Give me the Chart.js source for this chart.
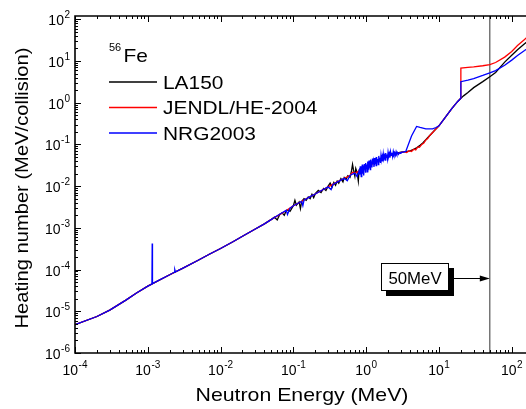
<!DOCTYPE html>
<html lang="en">
<head>
<meta charset="UTF-8">
<script src="https://cdn.jsdelivr.net/npm/chart.js"></script>
<title>Heating number 56Fe</title>
<style>
  body { margin: 0; background: #fff; }
  #wrap { width: 526px; height: 409px; }
</style>
</head>
<body>
<div id="wrap"><canvas id="heatChart" width="526" height="409"></canvas></div>
<script>
// series labels and colours
const seriesNames = ['LA150', 'JENDL/HE-2004', 'NRG2003'];
const seriesColors = ['#000000', '#ff0000', '#0000ff'];

// common low-energy part (MeV, MeV/collision)
const lowE = [1e-4, 2e-4, 3e-4, 5e-4, 7e-4, 1e-3, 2e-3, 3e-3, 5e-3, 7e-3, 1e-2, 1.5e-2, 2e-2, 3e-2, 4e-2];
const lowH = [4.8e-6, 7.5e-6, 1.07e-5, 1.85e-5, 2.75e-5, 4.0e-5, 7.5e-5, 1.07e-4, 1.7e-4, 2.33e-4, 3.2e-4, 4.7e-4, 6.3e-4, 9.4e-4, 1.25e-3];

// LA150
const la150E = [0.05, 0.055, 0.06, 0.065, 0.07, 0.075, 0.08, 0.085, 0.09, 0.1, 0.105, 0.11, 0.12, 0.125, 0.13, 0.14, 0.15, 0.16, 0.17, 0.18, 0.19, 0.2,
  0.22, 0.24, 0.26, 0.28, 0.3, 0.32, 0.34, 0.36, 0.38, 0.4, 0.42, 0.45, 0.48, 0.5, 0.53, 0.56, 0.6, 0.63, 0.65, 0.67, 0.7, 0.72, 0.75, 0.78, 0.8,
  0.85, 0.9, 1.0, 1.5, 2.0, 2.5, 3.0, 3.5, 4.0, 4.5, 5.0, 5.5, 6.0, 7.0, 8.0, 9.0, 10, 12, 15, 18, 20, 22, 25, 30, 40, 50, 60, 80, 100, 120, 150, 170];
const la150H = [1.6e-3, 1.8e-3, 1.55e-3, 2.1e-3, 2.3e-3, 2.0e-3, 2.6e-3, 2.7e-3, 2.5e-3, 3.4e-3, 4.6e-3, 3.5e-3, 4.2e-3, 2.9e-3, 4.3e-3, 5.0e-3, 4.6e-3, 5.5e-3, 5.0e-3, 6.4e-3, 5.3e-3, 6.6e-3,
  7.9e-3, 7.0e-3, 8.8e-3, 7.9e-3, 1.0e-2, 1.18e-2, 9.5e-3, 1.22e-2, 1.05e-2, 1.32e-2, 1.18e-2, 1.52e-2, 1.27e-2, 1.62e-2, 1.47e-2, 1.78e-2, 1.62e-2, 2.35e-2, 3.3e-2, 2.45e-2, 1.72e-2, 2.65e-2, 2.15e-2, 1.32e-2, 2.45e-2,
  2.6e-2, 2.75e-2, 2.95e-2, 4.2e-2, 5.3e-2, 6.0e-2, 6.5e-2, 6.7e-2, 7.0e-2, 7.6e-2, 8.4e-2, 9.5e-2, 0.108, 0.145, 0.186, 0.232, 0.28, 0.43, 0.72, 1.06, 1.28, 1.48, 1.75, 2.3, 3.2, 4.2, 5.3, 9.4, 13.7, 18.6, 26, 31];

// JENDL/HE-2004
const jendlE = [0.05, 0.07, 0.1, 0.12, 0.15, 0.2, 0.25, 0.3, 0.4, 0.5, 0.6, 0.65, 0.7, 0.8, 1.0, 1.3, 1.6, 2.0, 2.5, 3.0, 3.3, 3.6, 3.9, 4.2, 4.5, 4.8,
  5.1, 5.4, 5.8, 6.2, 6.6, 7.0, 7.4, 8, 9, 10, 12, 15, 18, 20, 20, 25, 30, 40, 50, 60, 80, 100, 120, 150, 170];
const jendlH = [1.6e-3, 2.25e-3, 3.4e-3, 4.0e-3, 5.0e-3, 6.5e-3, 8.1e-3, 9.6e-3, 1.27e-2, 1.55e-2, 1.8e-2, 2.15e-2, 2.05e-2, 2.3e-2, 2.9e-2, 3.6e-2, 4.3e-2, 5.2e-2, 5.8e-2, 6.4e-2, 6.7e-2, 6.4e-2, 7.1e-2, 6.8e-2, 7.7e-2, 7.4e-2,
  8.7e-2, 8.5e-2, 0.1, 0.108, 0.128, 0.138, 0.16, 0.185, 0.23, 0.28, 0.43, 0.72, 1.06, 1.28, 6.8, 7.0, 7.2, 7.7, 8.2, 9.2, 12.4, 17, 23.5, 33, 40];

// NRG2003
const nrgE = [1e-4, 2e-4, 3e-4, 5e-4, 7e-4, 1e-3, 1.14e-3, 1.15e-3, 1.16e-3, 1.5e-3, 2e-3, 2.3e-3, 2.35e-3, 2.4e-3, 3e-3, 5e-3, 7e-3, 1e-2, 1.5e-2, 2e-2, 3e-2, 4e-2,
  0.05, 0.06, 0.07, 0.08, 0.083, 0.09, 0.1, 0.12, 0.13, 0.135, 0.14, 0.17, 0.2, 0.25, 0.3, 0.33, 0.35, 0.4, 0.45, 0.5, 0.55, 0.6, 0.65, 0.7, 0.75, 0.8,
  0.81, 0.82, 0.83, 0.845, 0.855, 0.865, 0.875, 0.885, 0.895, 0.91, 0.92, 0.93, 0.945, 0.955, 0.965, 0.98, 0.99, 1.00, 1.02, 1.035, 1.05, 1.065,
  1.08, 1.095, 1.11, 1.13, 1.145, 1.16, 1.18, 1.20, 1.22, 1.24, 1.26, 1.28, 1.30, 1.32, 1.345, 1.37, 1.39, 1.415, 1.44, 1.465, 1.49, 1.515,
  1.54, 1.57, 1.60, 1.63, 1.66, 1.69, 1.72, 1.75, 1.785, 1.82, 1.855, 1.89, 1.925, 1.96, 2.00, 2.04, 2.08, 2.12, 2.16, 2.21, 2.26, 2.31,
  2.36, 2.41, 2.46, 2.52, 2.58, 2.64, 2.70, 2.78, 2.86, 2.95, 3.00,
  3.5, 4.2, 4.93, 5.5, 6.6, 8.2, 9.1, 10, 12, 15, 18, 20, 20, 25, 30, 40, 50, 60, 80, 100, 120, 150, 170];
const nrgH = [4.8e-6, 7.5e-6, 1.07e-5, 1.85e-5, 2.75e-5, 4.0e-5, 4.5e-5, 4.2e-4, 4.6e-5, 5.8e-5, 7.5e-5, 8.6e-5, 1.0e-4, 8.8e-5, 1.07e-4, 1.7e-4, 2.33e-4, 3.2e-4, 4.7e-4, 6.3e-4, 9.4e-4, 1.25e-3,
  1.6e-3, 1.95e-3, 2.3e-3, 2.65e-3, 2.1e-3, 2.95e-3, 3.4e-3, 4.0e-3, 4.3e-3, 3.4e-3, 4.6e-3, 5.6e-3, 6.5e-3, 8.1e-3, 9.6e-3, 8.3e-3, 1.1e-2, 1.25e-2, 1.4e-2, 1.55e-2, 1.35e-2, 1.8e-2, 1.95e-2, 2.05e-2, 1.7e-2, 2.3e-2,
  0.027, 0.019, 0.030, 0.022, 0.017, 0.029, 0.024, 0.033, 0.020, 0.031, 0.026, 0.018, 0.034, 0.025, 0.030, 0.021, 0.036, 0.027, 0.033, 0.022, 0.039, 0.029,
  0.025, 0.041, 0.031, 0.036, 0.024, 0.043, 0.033, 0.028, 0.046, 0.034, 0.040, 0.029, 0.047, 0.037, 0.042, 0.031, 0.050, 0.039, 0.045, 0.033, 0.053, 0.040,
  0.048, 0.036, 0.056, 0.044, 0.051, 0.039, 0.059, 0.047, 0.054, 0.042, 0.062, 0.050, 0.057, 0.045, 0.065, 0.052, 0.060, 0.048, 0.067, 0.055, 0.063, 0.051,
  0.068, 0.058, 0.064, 0.055, 0.067, 0.059, 0.064, 0.058, 0.063, 0.061, 0.064,
  0.068, 0.16, 0.27, 0.255, 0.235, 0.235, 0.255, 0.28, 0.43, 0.72, 1.06, 1.28, 3.2, 3.5, 3.8, 4.5, 5.2, 5.9, 7.9, 10.5, 13.5, 17.8, 21];

// axis ticks (powers of ten) and marker
const xTickExps = [-4, -3, -2, -1, 0, 1, 2];
const yTickExps = [-6, -5, -4, -3, -2, -1, 0, 1, 2];
const markerEnergy = 50;
const markerLabel = '50MeV';

function toPoints(es, hs) {
  return es.map((e, i) => ({ x: e, y: hs[i] }));
}

const FONT = '"Liberation Sans", Arial, sans-serif';

function drawText(ctx, s, x, y, size, align, sx) {
  ctx.save();
  ctx.font = size + 'px ' + FONT;
  ctx.translate(x, y);
  ctx.scale(sx || 1, 1);
  ctx.textAlign = align || 'left';
  ctx.textBaseline = 'alphabetic';
  ctx.fillText(s, 0, 0);
  ctx.restore();
}

// "10" with a raised exponent; align 'center' or 'right'
function powLabel(ctx, exp, x, y, align) {
  ctx.font = '14px ' + FONT;
  const wb = ctx.measureText('10').width;
  ctx.font = '10px ' + FONT;
  const we = ctx.measureText(String(exp)).width;
  const total = wb + we + 0.5;
  const x0 = align === 'right' ? x - total : x - total / 2;
  drawText(ctx, '10', x0, y, 14, 'left');
  drawText(ctx, String(exp), x0 + wb + 0.5, y - 7, 10, 'left');
}

const framePlugin = {
  id: 'frame',
  beforeDatasetsDraw(chart) {
    const { ctx, chartArea: a } = chart;
    const xm = chart.scales.x.getPixelForValue(markerEnergy);
    ctx.save();
    ctx.strokeStyle = '#333';
    ctx.lineWidth = 1;
    ctx.beginPath();
    ctx.moveTo(xm, a.top);
    ctx.lineTo(xm, a.bottom);
    ctx.stroke();
    ctx.restore();
  },
  afterDraw(chart) {
    const { ctx, chartArea: a } = chart;
    const xs = chart.scales.x, ys = chart.scales.y;
    ctx.save();
    ctx.strokeStyle = '#000';
    ctx.fillStyle = '#000';

    // ticks (inward)
    ctx.lineWidth = 1;
    ctx.beginPath();
    for (let d = -4; d <= 2; d++) {
      for (let m = 1; m <= 9; m++) {
        const v = m * Math.pow(10, d);
        if (v < xs.min || v > xs.max) continue;
        const px = Math.round(xs.getPixelForValue(v)) + 0.5;
        const len = m === 1 ? 6 : 3;
        ctx.moveTo(px, a.bottom); ctx.lineTo(px, a.bottom - len);
        ctx.moveTo(px, a.top); ctx.lineTo(px, a.top + len);
      }
    }
    for (let d = -6; d <= 2; d++) {
      for (let m = 1; m <= 9; m++) {
        const v = m * Math.pow(10, d);
        if (v < ys.min || v > ys.max) continue;
        const py = Math.round(ys.getPixelForValue(v)) + 0.5;
        const len = m === 1 ? 6 : 3;
        ctx.moveTo(a.left, py); ctx.lineTo(a.left + len, py);
      }
    }
    ctx.stroke();

    // frame
    ctx.lineWidth = 1.6;
    ctx.beginPath();
    ctx.moveTo(a.right, a.top);
    ctx.lineTo(a.left, a.top);
    ctx.lineTo(a.left, a.bottom);
    ctx.lineTo(a.right, a.bottom);
    ctx.stroke();

    // tick labels
    xTickExps.forEach(e => powLabel(ctx, e, xs.getPixelForValue(Math.pow(10, e)), a.bottom + 22, 'center'));
    yTickExps.forEach(e => powLabel(ctx, e, a.left - 5, ys.getPixelForValue(Math.pow(10, e)) + 6, 'right'));

    // axis titles
    drawText(ctx, 'Neutron Energy (MeV)', 302, 401, 19, 'center', 1.12);
    ctx.save();
    ctx.translate(28, 188);
    ctx.rotate(-Math.PI / 2);
    drawText(ctx, 'Heating number (MeV/collision)', 0, 0, 19, 'center', 1.06);
    ctx.restore();

    // legend
    drawText(ctx, '56', 109, 51, 11, 'left');
    drawText(ctx, 'Fe', 123.5, 62, 19, 'left', 1.1);
    const legY = [82, 107.5, 133];
    seriesNames.forEach((n, i) => {
      ctx.strokeStyle = seriesColors[i];
      ctx.lineWidth = 1.5;
      ctx.beginPath();
      ctx.moveTo(109, legY[i]);
      ctx.lineTo(157, legY[i]);
      ctx.stroke();
      ctx.fillStyle = '#000';
      drawText(ctx, n, 163, legY[i] + 6.5, 19, 'left', 1.1);
    });

    // 50 MeV marker box and arrow
    const xm = xs.getPixelForValue(markerEnergy);
    ctx.fillStyle = '#000';
    ctx.fillRect(386, 268, 68, 28);
    ctx.fillStyle = '#fff';
    ctx.fillRect(381, 263, 68, 28);
    ctx.strokeStyle = '#000';
    ctx.lineWidth = 1;
    ctx.strokeRect(381.5, 263.5, 67, 27);
    ctx.fillStyle = '#000';
    drawText(ctx, markerLabel, 415, 283.5, 16, 'center', 1.05);
    ctx.beginPath();
    ctx.moveTo(454, 278.5);
    ctx.lineTo(xm - 8, 278.5);
    ctx.stroke();
    ctx.beginPath();
    ctx.moveTo(xm, 278.5);
    ctx.lineTo(xm - 10, 275.5);
    ctx.lineTo(xm - 10, 281.5);
    ctx.closePath();
    ctx.fill();
    ctx.restore();
  }
};

const ctx = document.getElementById('heatChart').getContext('2d');
new Chart(ctx, {
  type: 'line',
  data: {
    datasets: [
      { label: seriesNames[0], data: toPoints(lowE.concat(la150E), lowH.concat(la150H)), borderColor: seriesColors[0], order: 3 },
      { label: seriesNames[1], data: toPoints(lowE.concat(jendlE), lowH.concat(jendlH)), borderColor: seriesColors[1], order: 2 },
      { label: seriesNames[2], data: toPoints(nrgE, nrgH), borderColor: seriesColors[2], order: 1 }
    ]
  },
  options: {
    responsive: false,
    animation: false,
    layout: { padding: { left: 75, right: 0, top: 16, bottom: 56 } },
    elements: {
      point: { radius: 0 },
      line: { borderWidth: 1.3, tension: 0, fill: false }
    },
    plugins: { legend: { display: false }, tooltip: { enabled: false } },
    scales: {
      x: { type: 'logarithmic', min: 1e-4, max: 157, display: false },
      y: { type: 'logarithmic', min: 1e-6, max: 120, display: false }
    }
  },
  plugins: [framePlugin]
});
</script>
</body>
</html>
